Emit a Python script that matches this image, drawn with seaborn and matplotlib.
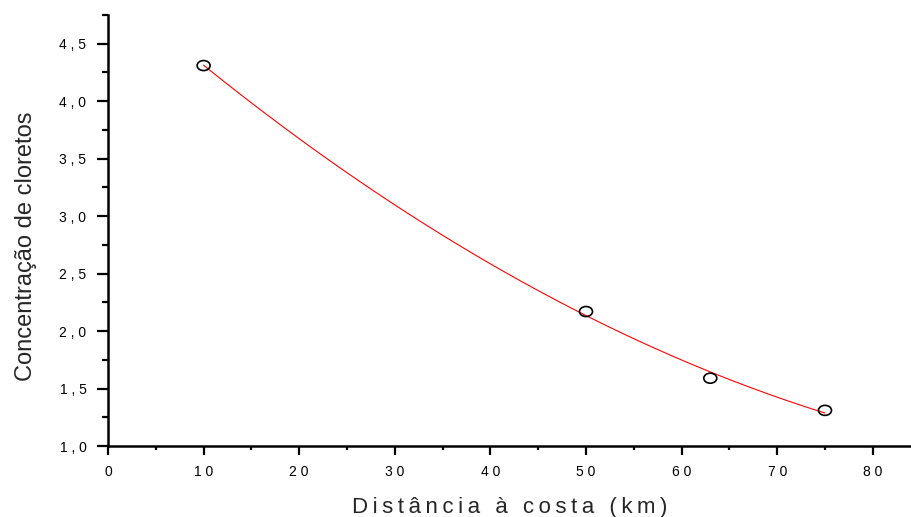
import numpy as np
import pandas as pd
import matplotlib
matplotlib.use("Agg")
import matplotlib.pyplot as plt
from matplotlib.markers import MarkerStyle
from matplotlib.transforms import Affine2D
from matplotlib.ticker import MultipleLocator, FuncFormatter
import seaborn as sns

# Chloride concentration measured at increasing distance from the coast
distance_km = [10, 50, 63, 75]
chloride = [4.31, 2.17, 1.59, 1.31]

x_label = "Distância à costa (km)"
y_label = "Concentração de cloretos"

df = pd.DataFrame({"dist": distance_km, "cl": chloride})

sns.set_style("ticks")
plt.rcParams["font.family"] = ["Liberation Sans", "DejaVu Sans"]

fig = plt.figure(figsize=(9.12, 5.17), dpi=100)
ax = fig.add_axes([108 / 912, 71 / 517, 1 - 108 / 912, (446 - 15) / 517])

# second-order least-squares fit through the measurements
sns.regplot(data=df, x="dist", y="cl", order=2, ci=None, scatter=False,
            truncate=True, ax=ax, line_kws=dict(color="red", lw=0.8))

ellipse = MarkerStyle("o", transform=Affine2D().scale(1.3, 1.0))
sns.scatterplot(data=df, x="dist", y="cl", ax=ax, marker=ellipse, s=52,
                facecolor="none", edgecolor="black", linewidth=1.2, zorder=3)

ax.set_xlim(0, 84.1)
ax.set_ylim(1.0, 4.75)

ax.xaxis.set_major_locator(MultipleLocator(10))
ax.xaxis.set_minor_locator(MultipleLocator(5))
ax.yaxis.set_major_locator(MultipleLocator(0.5))
ax.yaxis.set_minor_locator(MultipleLocator(0.25))


def spaced(s):
    return " ".join(s)


ax.xaxis.set_major_formatter(FuncFormatter(lambda v, p: spaced(f"{v:.0f}")))
ax.yaxis.set_major_formatter(
    FuncFormatter(lambda v, p: spaced(f"{v:.1f}".replace(".", ","))))

for side in ("top", "right"):
    ax.spines[side].set_visible(False)
for side in ("left", "bottom"):
    ax.spines[side].set_linewidth(1.8)
    ax.spines[side].set_color("black")

ax.tick_params(axis="x", which="major", direction="out", length=6.5,
               width=1.6, labelsize=10, colors="black", pad=7.5)
ax.tick_params(axis="x", which="minor", direction="out", length=3,
               width=1.6, colors="black")
ax.tick_params(axis="y", which="major", direction="out", length=8,
               width=1.6, labelsize=10, colors="black", pad=7.5)
ax.tick_params(axis="y", which="minor", direction="out", length=4.5,
               width=1.6, colors="black")

ax.set_xlabel("\u2009".join(x_label), fontsize=16, labelpad=13)
ax.set_ylabel(y_label, fontsize=17)
ax.yaxis.set_label_coords(-0.088, 0.463)

fig.savefig("out.png", dpi=100)
